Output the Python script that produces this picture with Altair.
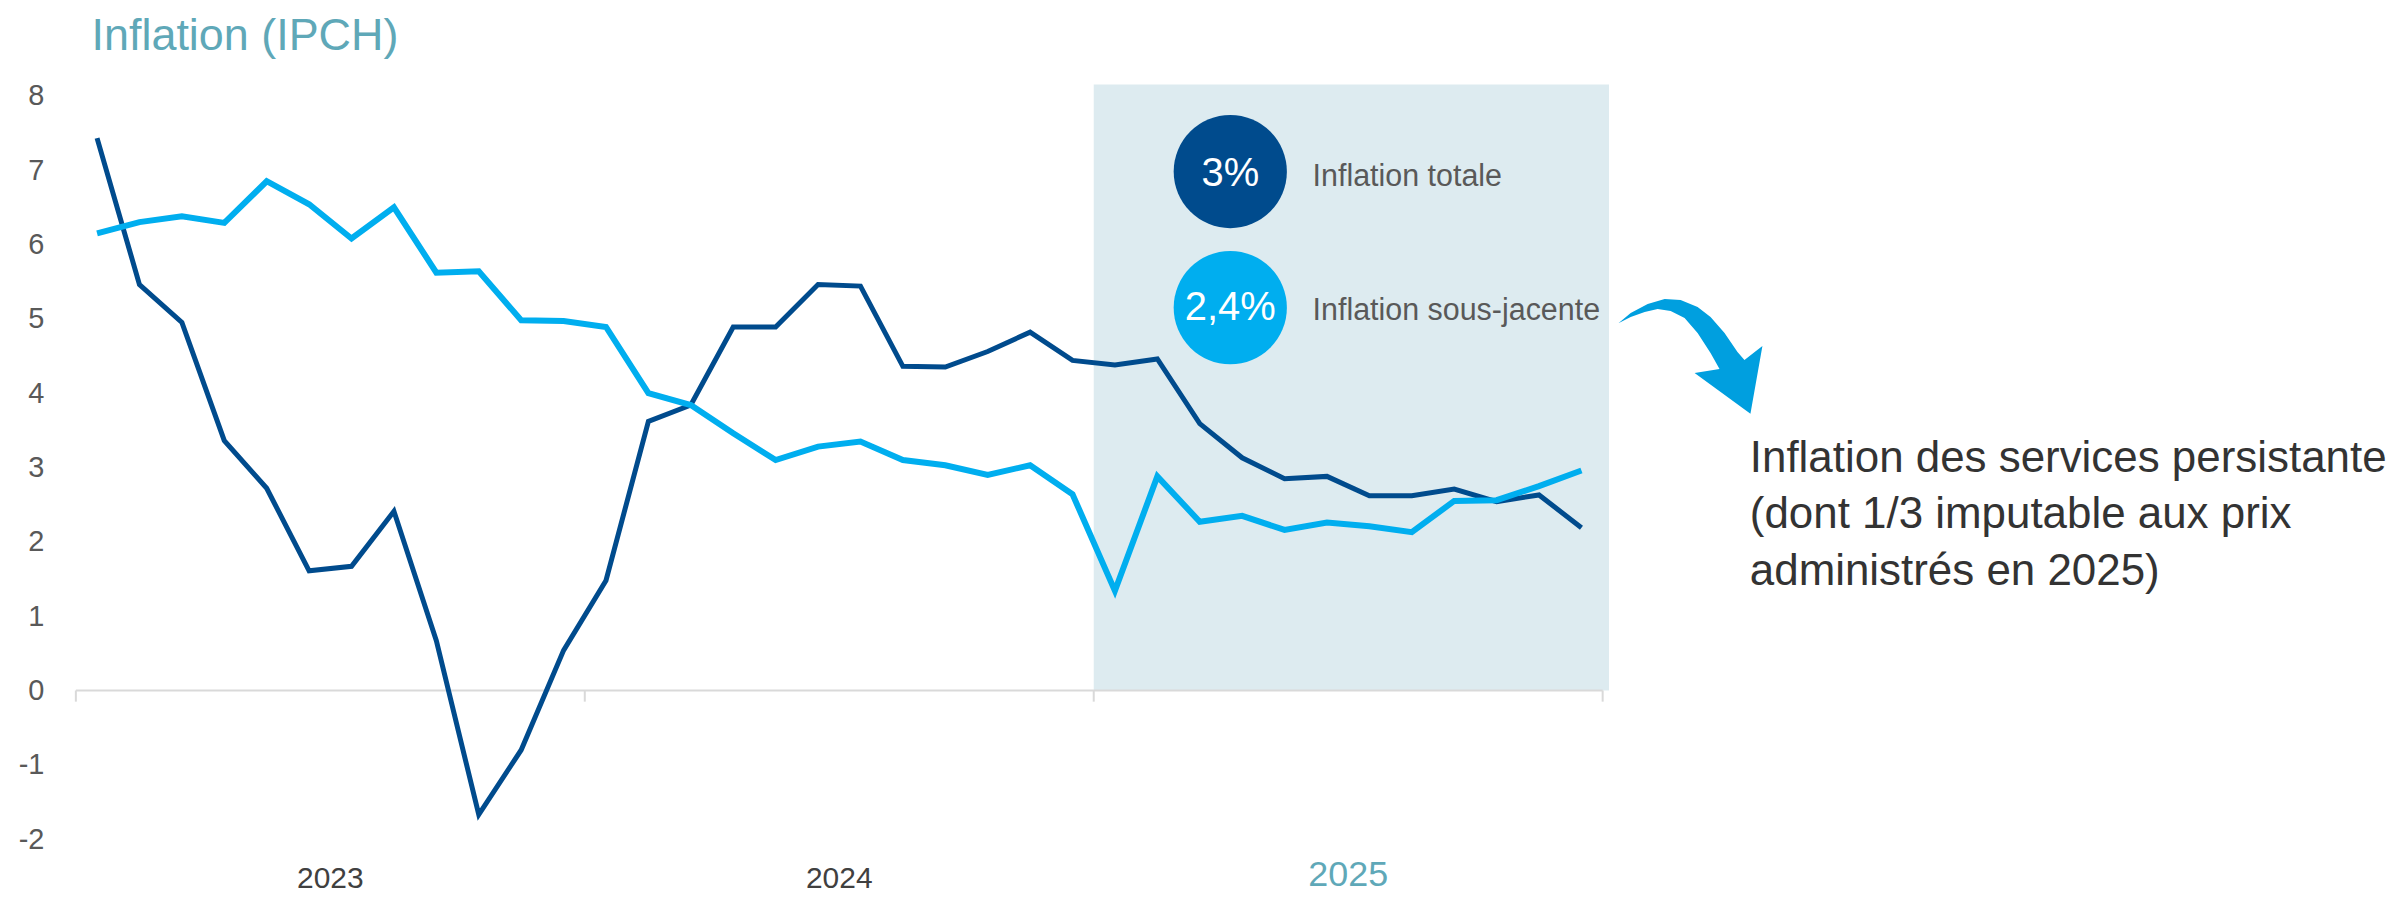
import altair as alt
import pandas as pd

# ---------------- data ----------------
month_index = list(range(36))  # Jan 2023 .. Dec 2025
inflation_totale = [7.43, 5.46, 4.95, 3.36, 2.72, 1.61, 1.67, 2.41, 0.67, -1.67, -0.80, 0.54,
                    1.48, 3.62, 3.84, 4.89, 4.89, 5.46, 5.44, 4.36, 4.35, 4.56, 4.82, 4.44,
                    4.38, 4.46, 3.59, 3.13, 2.85, 2.88, 2.62, 2.62, 2.71, 2.54, 2.63, 2.19]
inflation_sous_jacente = [6.15, 6.30, 6.38, 6.29, 6.85, 6.54, 6.08, 6.50, 5.62, 5.64, 4.98, 4.97,
                          4.89, 4.00, 3.84, 3.46, 3.10, 3.28, 3.35, 3.10, 3.03, 2.90, 3.03, 2.64,
                          1.34, 2.88, 2.27, 2.35, 2.16, 2.26, 2.21, 2.13, 2.55, 2.56, 2.75, 2.96]
years = ["2023", "2024", "2025"]
year_start = [0, 12, 24, 36]
y_ticks = [-2, -1, 0, 1, 2, 3, 4, 5, 6, 7, 8]

bubble_values = ["3%", "2,4%"]
bubble_labels = ["Inflation totale", "Inflation sous-jacente"]
title_text = "Inflation (IPCH)"
note_lines = ["Inflation des services persistante",
              "(dont 1/3 imputable aux prix",
              "administrés en 2025)"]

DARK = "#004B8D"
LIGHT = "#00AEEF"
TEAL = "#5FA8B8"
SHADE = "#DDEBF0"
FONT = "Liberation Sans"

# ---------------- tables ----------------
x_mid = [m + 0.5 for m in month_index]
df_tot = pd.DataFrame({"m": x_mid, "v": inflation_totale})
df_sj = pd.DataFrame({"m": x_mid, "v": inflation_sous_jacente})

xs = alt.Scale(domain=[0, 36], nice=False, zero=False)
ys = alt.Scale(domain=[-2, 8], nice=False, zero=False)
yaxis = alt.Axis(values=y_ticks, title=None, domain=False, ticks=False, grid=False,
                 labelExpr="'' + datum.value",
                 labelFontSize=29, labelColor="#595959", labelPadding=32, labelFont=FONT)


def X(f):
    return alt.X(f, scale=xs, axis=None)


def Y(f):
    return alt.Y(f, scale=ys, axis=yaxis)


# shaded 2025 area
shade = alt.Chart(pd.DataFrame({"a": [24], "b": [36.15], "lo": [0], "hi": [8.15]})).mark_rect(
    color=SHADE).encode(x=X("a:Q"), x2="b:Q", y=Y("lo:Q"), y2="hi:Q")

# x axis line at zero and year ticks
axis_line = alt.Chart(pd.DataFrame({"a": [0], "b": [36], "z": [0]})).mark_rule(
    color="#D9D9D9", strokeWidth=2).encode(x=X("a:Q"), x2="b:Q", y=Y("z:Q"))
ticks = alt.Chart(pd.DataFrame({"t": year_start, "z": [0] * 4, "d": [-0.15] * 4})).mark_rule(
    color="#D9D9D9", strokeWidth=2).encode(x=X("t:Q"), y=Y("z:Q"), y2="d:Q")

line_tot = alt.Chart(df_tot).mark_line(color=DARK, strokeWidth=5).encode(x=X("m:Q"), y=Y("v:Q"))
line_sj = alt.Chart(df_sj).mark_line(color=LIGHT, strokeWidth=6).encode(x=X("m:Q"), y=Y("v:Q"))

# bubbles
bub = pd.DataFrame({"x": [27.22, 27.22], "y": [6.98, 5.15], "val": bubble_values,
                    "lab": bubble_labels, "ty": [6.79, 4.98], "lx": [29.16, 29.16],
                    "col": [DARK, LIGHT]})
circles = alt.Chart(bub).mark_circle(size=12868, opacity=1).encode(
    x=X("x:Q"), y=Y("y:Q"), color=alt.Color("col:N", scale=None))
circ_text = alt.Chart(bub).mark_text(color="white", fontSize=40, font=FONT, align="center",
                                     baseline="alphabetic").encode(
    x=X("x:Q"), y=Y("ty:Q"), text="val:N")
circ_lab = alt.Chart(bub).mark_text(color="#595959", fontSize=30.5, font=FONT, align="left",
                                    baseline="alphabetic").encode(
    x=X("lx:Q"), y=Y("ty:Q"), text="lab:N")

# curved arrow (shape in unit coordinates)
ARROW = ("M-0.951,-0.436 L-0.787,-0.573 L-0.56,-0.693 L-0.333,-0.76 L-0.12,-0.747 "
         "L0.107,-0.653 L0.28,-0.52 L0.467,-0.307 L0.64,-0.053 L0.733,0.053 L0.973,-0.133 "
         "L0.813,0.773 L0.067,0.227 L0.4,0.173 L0.28,-0.04 L0.107,-0.307 L-0.067,-0.507 "
         "L-0.253,-0.6 L-0.427,-0.627 L-0.6,-0.587 L-0.787,-0.52 Z")
arrow = alt.Chart(pd.DataFrame({"x": [38.05], "y": [4.5]})).mark_point(
    shape=ARROW, size=22500, filled=True, color="#009FDF", opacity=1, strokeWidth=0).encode(
    x=X("x:Q"), y=Y("y:Q"))

# annotation text
note = alt.Chart(pd.DataFrame({"x": [39.47], "y": [2.94], "t": [note_lines]})).mark_text(
    align="left", baseline="alphabetic", fontSize=44, font=FONT, color="#333333",
    lineHeight=56.5).encode(x=X("x:Q"), y=Y("y:Q"), text="t")

# year labels
yl = pd.DataFrame({"x": [6, 18], "y": [-2.66, -2.66], "t": years[:2]})
year_lab = alt.Chart(yl).mark_text(fontSize=30, font=FONT, color="#404040", align="center",
                                   baseline="alphabetic").encode(
    x=X("x:Q"), y=Y("y:Q"), text="t:N")
yl25 = pd.DataFrame({"x": [30], "y": [-2.63], "t": years[2:]})
year_lab25 = alt.Chart(yl25).mark_text(fontSize=36, font=FONT, color=TEAL, align="center",
                                       baseline="alphabetic").encode(
    x=X("x:Q"), y=Y("y:Q"), text="t:N")

# title
title = alt.Chart(pd.DataFrame({"x": [0.37], "y": [8.617], "t": [title_text]})).mark_text(
    fontSize=45, font=FONT, color=TEAL, align="left", baseline="alphabetic").encode(
    x=X("x:Q"), y=Y("y:Q"), text="t:N")

chart = alt.layer(
    shade, axis_line, ticks, line_tot, line_sj, circles, circ_text, circ_lab,
    arrow, note, year_lab, year_lab25, title
).properties(
    width=1530, height=745,
    autosize=alt.AutoSizeParams(type="none"),
    padding={"left": 68, "top": 87, "right": 788, "bottom": 56},
).configure_view(stroke=None)

chart.save("out.html", embed_options={"renderer": "svg", "actions": False})
